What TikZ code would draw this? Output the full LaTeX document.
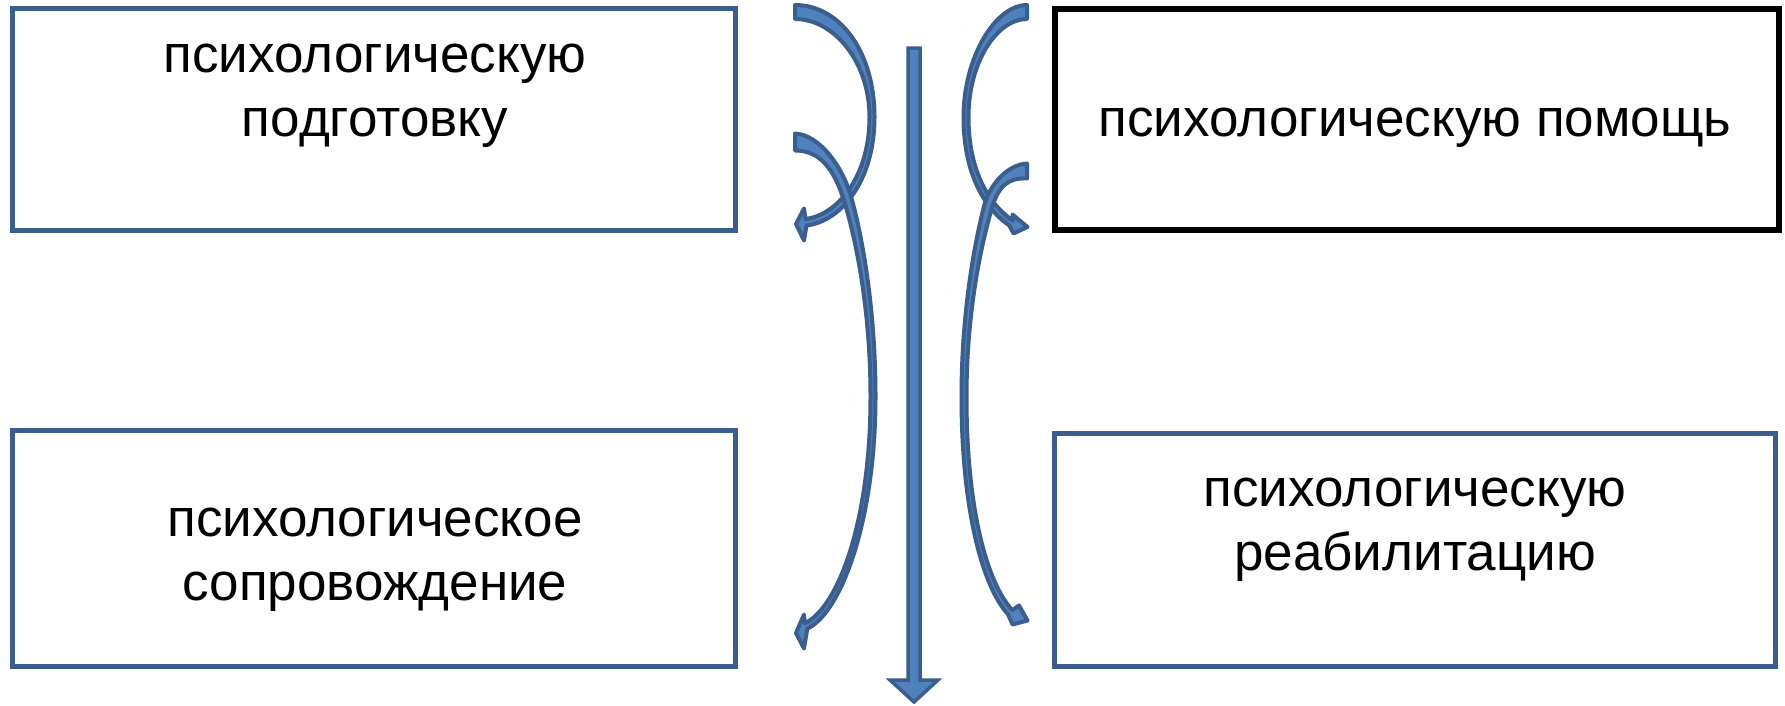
\documentclass[tikz,border=0pt]{standalone}
\usepackage{fontspec}
\setmainfont{Liberation Sans}
\definecolor{boxblue}{HTML}{3B5E8C}
\definecolor{arrline}{HTML}{3A5E8D}
\definecolor{arrfill}{HTML}{4F81BD}
\tikzset{
  bluebox/.style={draw=boxblue, line width=5pt, rectangle, inner sep=0pt, fill=white},
  blackbox/.style={draw=black, line width=6pt, rectangle, inner sep=0pt, fill=white},
  label/.style={align=center, inner sep=0pt, font=\fontsize{53}{64}\selectfont},
  band/.style={draw=arrline, fill=arrfill, line width=4pt, line join=round},
  shaft/.style={draw=arrline, fill=arrfill, line width=3.5pt, line join=miter},
}
\begin{document}
\begin{tikzpicture}[x=1pt, y=-1pt]
\useasboundingbox (0,0) rectangle (1785,705);
\fill[white] (0,0) rectangle (1785,705);

% boxes
\node[bluebox, minimum width=723pt, minimum height=222pt] (b1) at (374,119.5) {};
\node[blackbox, minimum width=724pt, minimum height=221pt] (b2) at (1417,119.5) {};
\node[bluebox, minimum width=723pt, minimum height=236pt] (b3) at (374,548.5) {};
\node[bluebox, minimum width=721pt, minimum height=233pt] (b4) at (1415,550) {};

% texts
\node[label] (t1) at (375,96) {психологическую\\подготовку};
\node[label] (t2) at (1415,128) {психологическую помощь};
\node[label] (t3) at (375,560) {психологическое\\сопровождение};
\node[label] (t4) at (1415,530) {психологическую\\реабилитацию};

% central down arrow
\draw[shaft] (908,48) -- (920,48) -- (920,680) -- (938,680) -- (914,702) -- (890,680) -- (908,680) -- cycle;

% curved arrow A (top left)
\draw[band] (795,5) .. controls (840,5) and (874.5,52) .. (874.5,117)
  .. controls (874.5,180) and (842,221) .. (806.5,225.5)
  -- (804,240.5) -- (796,224) -- (804,208.5) -- (805.5,219)
  .. controls (838,215) and (869.5,176) .. (869.5,117)
  .. controls (869.5,62) and (834,19) .. (795,19) -- cycle;

% curved arrow B (long left)
\draw[band] (795,133.5) .. controls (820,135) and (842.3,166.7) .. (850.8,195.8)
  .. controls (859.4,224.9) and (875.5,300) .. (875.5,397)
  .. controls (875.5,520) and (841.3,612.7) .. (807.3,628.7)
  -- (804,648.5) -- (796,633) -- (804,614.5) -- (804.7,623.3)
  .. controls (838.7,607.3) and (870.5,520) .. (870.5,397)
  .. controls (870.5,300) and (852.6,227.1) .. (843.2,198.2)
  .. controls (833.7,169.3) and (820,150.5) .. (795,150.5) -- cycle;

% curved arrow C (top right)
\draw[band] (1027,5) .. controls (995,5) and (963.5,58) .. (963.5,117)
  .. controls (963.5,172) and (983.3,207.5) .. (1009.3,225.5)
  -- (1013.5,233.5) -- (1027.5,227) -- (1012.5,214.5) -- (1012.7,220.5)
  .. controls (986.7,202.5) and (968.5,168) .. (968.5,117)
  .. controls (968.5,62) and (997,19) .. (1027,19) -- cycle;

% curved arrow D (long right)
\draw[band] (1027,163.5) .. controls (1008,164.5) and (989.7,183.8) .. (984.1,205.9)
  .. controls (978.5,228) and (961.5,300) .. (961.5,397)
  .. controls (961.5,510) and (982.8,587) .. (1007.8,614)
  -- (1012.5,624.5) -- (1027.5,620.5) -- (1019,605.5) -- (1012.2,610)
  .. controls (987.2,583) and (966.5,510) .. (966.5,397)
  .. controls (966.5,300) and (985.5,230) .. (991.9,208.1)
  .. controls (998.3,186.2) and (1008,177.5) .. (1027,178.5) -- cycle;
\end{tikzpicture}
\end{document}
